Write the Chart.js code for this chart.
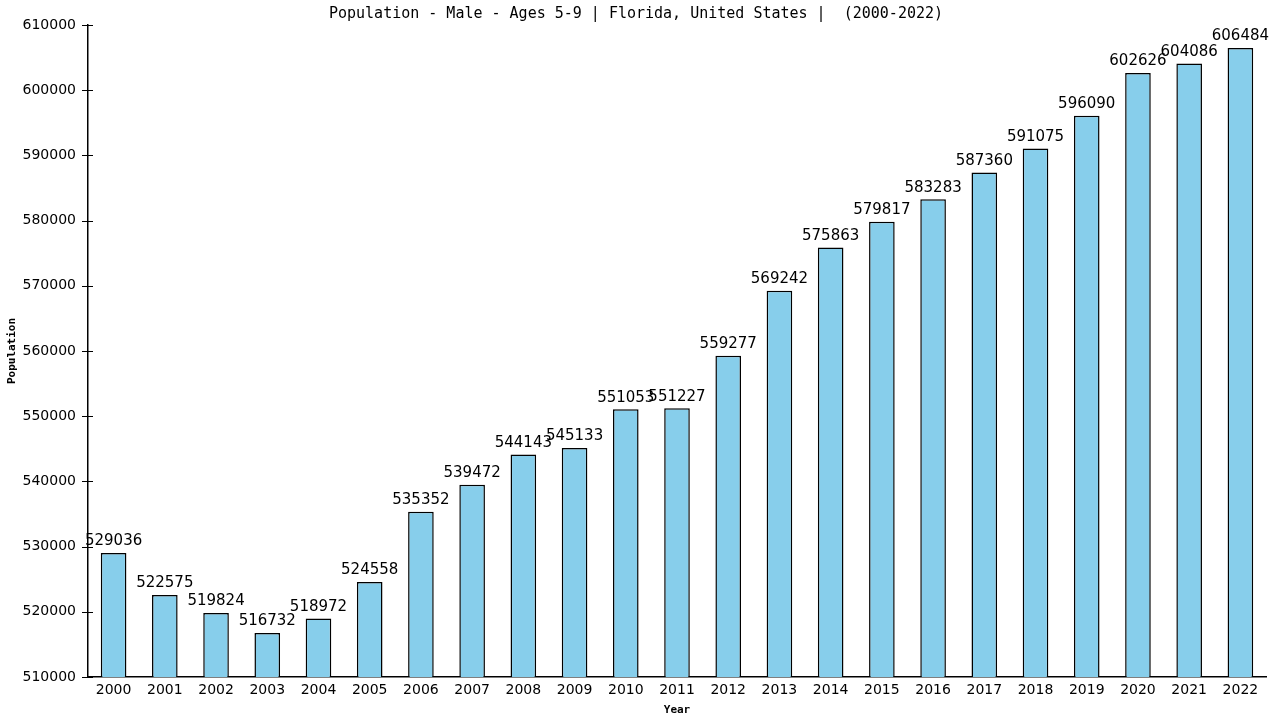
<!DOCTYPE html>
<html>
<head>
<meta charset="utf-8">
<script src="https://cdn.jsdelivr.net/npm/chart.js@4.4.0/dist/chart.umd.min.js"></script>
<style>
  html, body { margin: 0; padding: 0; background: #fff; }
  canvas { display: block; }
</style>
</head>
<body>
<canvas id="chart" width="1280" height="720"></canvas>
<script>
const years = ["2000","2001","2002","2003","2004","2005","2006","2007","2008","2009","2010","2011",
  "2012","2013","2014","2015","2016","2017","2018","2019","2020","2021","2022"];
const population = [529036,522575,519824,516732,518972,524558,535352,539472,544143,545133,551053,551227,
  559277,569242,575863,579817,583283,587360,591075,596090,602626,604086,606484];
const yMin = 510000;
const yMax = 610000;
const yStep = 10000;

const MONO = "'DejaVu Sans Mono', monospace";
const SANS = "'DejaVu Sans', sans-serif";

// labels above each bar
const valueLabels = {
  id: "valueLabels",
  afterDatasetsDraw(chart) {
    const ctx = chart.ctx;
    const meta = chart.getDatasetMeta(0);
    ctx.save();
    ctx.font = "15px " + SANS;
    ctx.fillStyle = "#000";
    ctx.textAlign = "center";
    ctx.textBaseline = "bottom";
    meta.data.forEach((bar, i) => {
      ctx.fillText(String(population[i]), bar.x, bar.y - 4);
    });
    ctx.restore();
  }
};

// small tick marks crossing the y axis
const crossTicks = {
  id: "crossTicks",
  afterDraw(chart) {
    const y = chart.scales.y;
    const ctx = chart.ctx;
    ctx.save();
    ctx.strokeStyle = "#000";
    ctx.lineWidth = 1;
    y.ticks.forEach(t => {
      const py = Math.round(y.getPixelForValue(t.value)) + 0.5;
      ctx.beginPath();
      ctx.moveTo(y.right - 6, py);
      ctx.lineTo(y.right + 5, py);
      ctx.stroke();
    });
    ctx.restore();
  }
};

new Chart(document.getElementById("chart"), {
  type: "bar",
  data: {
    labels: years,
    datasets: [{
      data: population,
      backgroundColor: "#87ceeb",
      borderColor: "#000",
      borderWidth: 1.5,
      borderSkipped: "bottom",
      barPercentage: 0.5,
      categoryPercentage: 1.0
    }]
  },
  options: {
    responsive: false,
    animation: false,
    devicePixelRatio: 1,
    layout: { padding: { left: 6, right: 14, top: 5, bottom: 3 } },
    plugins: {
      legend: { display: false },
      tooltip: { enabled: false },
      title: {
        display: true,
        text: "Population - Male - Ages 5-9 | Florida, United States |  (2000-2022)",
        color: "#000",
        font: { family: MONO, size: 15, weight: "normal" },
        padding: { top: 0, bottom: 2 }
      }
    },
    scales: {
      x: {
        offset: true,
        grid: { display: false, drawTicks: false },
        border: { color: "#000", width: 1.5 },
        ticks: { color: "#000", font: { family: SANS, size: 14 }, padding: 5, maxRotation: 0, autoSkip: false },
        title: { display: true, text: "Year", color: "#000", font: { family: MONO, size: 11, weight: "bold" }, padding: { top: 0, bottom: 0 } }
      },
      y: {
        min: yMin,
        max: yMax,
        afterFit: s => { s.width = 82; },
        grid: { display: false, drawTicks: false },
        border: { color: "#000", width: 1.5 },
        ticks: { stepSize: yStep, color: "#000", font: { family: SANS, size: 14 }, padding: 12,
          callback: v => String(v) },
        title: { display: true, text: "Population", color: "#000", font: { family: MONO, size: 11, weight: "bold" }, padding: { top: 0, bottom: 0 } }
      }
    }
  },
  plugins: [valueLabels, crossTicks]
});
</script>
</body>
</html>
